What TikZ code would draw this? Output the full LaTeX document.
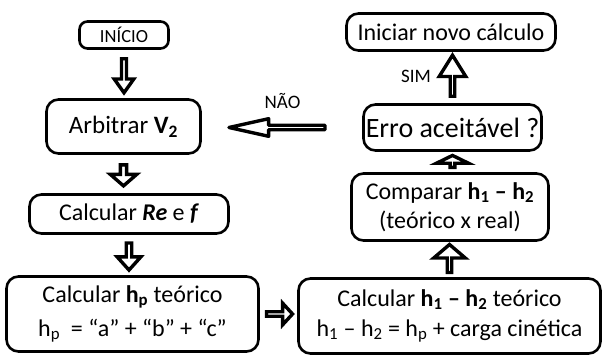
\documentclass[tikz,border=0pt]{standalone}
\usepackage{fontspec}
\setmainfont{Carlito}
\usetikzlibrary{shapes.arrows,positioning}

\begin{document}
\begin{tikzpicture}[x=1pt,y=-1pt,
  caixa/.style={draw,line width=2.6pt,rounded corners=12pt,inner sep=0pt,align=center,font=\fontsize{24}{30}\selectfont},
  rotulo/.style={anchor=base,font=\fontsize{19}{22}\selectfont},
  seta/.style n args={4}{draw=none,to path={(\tikztostart) -- (\tikztotarget)
      node[midway,sloped,allow upside down,single arrow,draw,fill=white,line width=3.4pt,inner sep=0pt,
           minimum height=#1,minimum width=#2,single arrow head extend=#3,single arrow tip angle=#4] {}}}]
  \useasboundingbox (0,0) rectangle (603,358);
  % caixas, coluna da esquerda
  \node[caixa,minimum width=89pt,minimum height=27pt,rounded corners=8pt,font=\fontsize{18.5}{22}\selectfont] (inicio) at (124,35) {INÍCIO};
  \node[caixa,minimum width=154pt,minimum height=54pt,font=\fontsize{25}{30}\selectfont] (arbitrar) at (123.5,126.5) {Arbitrar \textbf{V\textsubscript{2}}};
  \node[caixa,minimum width=199pt,minimum height=39pt] (calcre) at (129,214) {Calcular \textbf{\textit{Re}} e \textbf{\textit{f}}};
  \node[caixa,minimum width=252pt,minimum height=75pt,font=\fontsize{24}{34}\selectfont] (hp) at (132.5,314)
    {Calcular \textbf{h\textsubscript{p}} teórico\\h\textsubscript{p}\ \ = “a” + “b” + “c”};
  % caixas, coluna da direita
  \node[caixa,minimum width=302pt,minimum height=75pt] (h1h2) at (449.5,316)
    {Calcular \textbf{h\textsubscript{1} – h\textsubscript{2}} teórico\\h\textsubscript{1} – h\textsubscript{2} = h\textsubscript{p} + carga cinética};
  \node[caixa,minimum width=197pt,minimum height=67pt,font=\fontsize{24}{29}\selectfont] (comparar) at (450,207)
    {Comparar \textbf{h\textsubscript{1} – h\textsubscript{2}}\\(teórico x real)};
  \node[caixa,minimum width=178pt,minimum height=46pt,font=\fontsize{28}{30}\selectfont] (erro) at (452.5,127.5) {Erro aceitável ?};
  \node[caixa,minimum width=209pt,minimum height=37pt] (iniciar) at (451,32) {Iniciar novo cálculo};
  % rotulos
  \node[rotulo] (nao) at (282.5,109) {NÃO};
  \node[rotulo] (sim) at (416,83) {SIM};
  % setas
  \path (inicio.south) edge[seta={34pt}{19.6pt}{5pt}{71}] (inicio.south |- arbitrar.north)
        (arbitrar.south) edge[seta={21pt}{26.6pt}{5.5pt}{98}] (arbitrar.south |- calcre.north)
        (calcre.south) edge[seta={27pt}{23.6pt}{5.5pt}{84}] (calcre.south |- hp.north)
        (hp.east) edge[seta={26pt}{21.6pt}{6.5pt}{95}] (hp.east -| h1h2.west)
        (h1h2.north) edge[seta={28pt}{31.6pt}{10pt}{99}] (h1h2.north |- comparar.south)
        (erro.south |- comparar.north) edge[seta={12pt}{32pt}{10pt}{128}] (erro.south)
        (erro.north) edge[seta={41pt}{26.6pt}{8.5pt}{64}] (erro.north |- iniciar.south)
        (erro.west) edge[seta={96pt}{17.6pt}{5pt}{25},line join=round] (erro.west -| arbitrar.east);
\end{tikzpicture}
\end{document}
